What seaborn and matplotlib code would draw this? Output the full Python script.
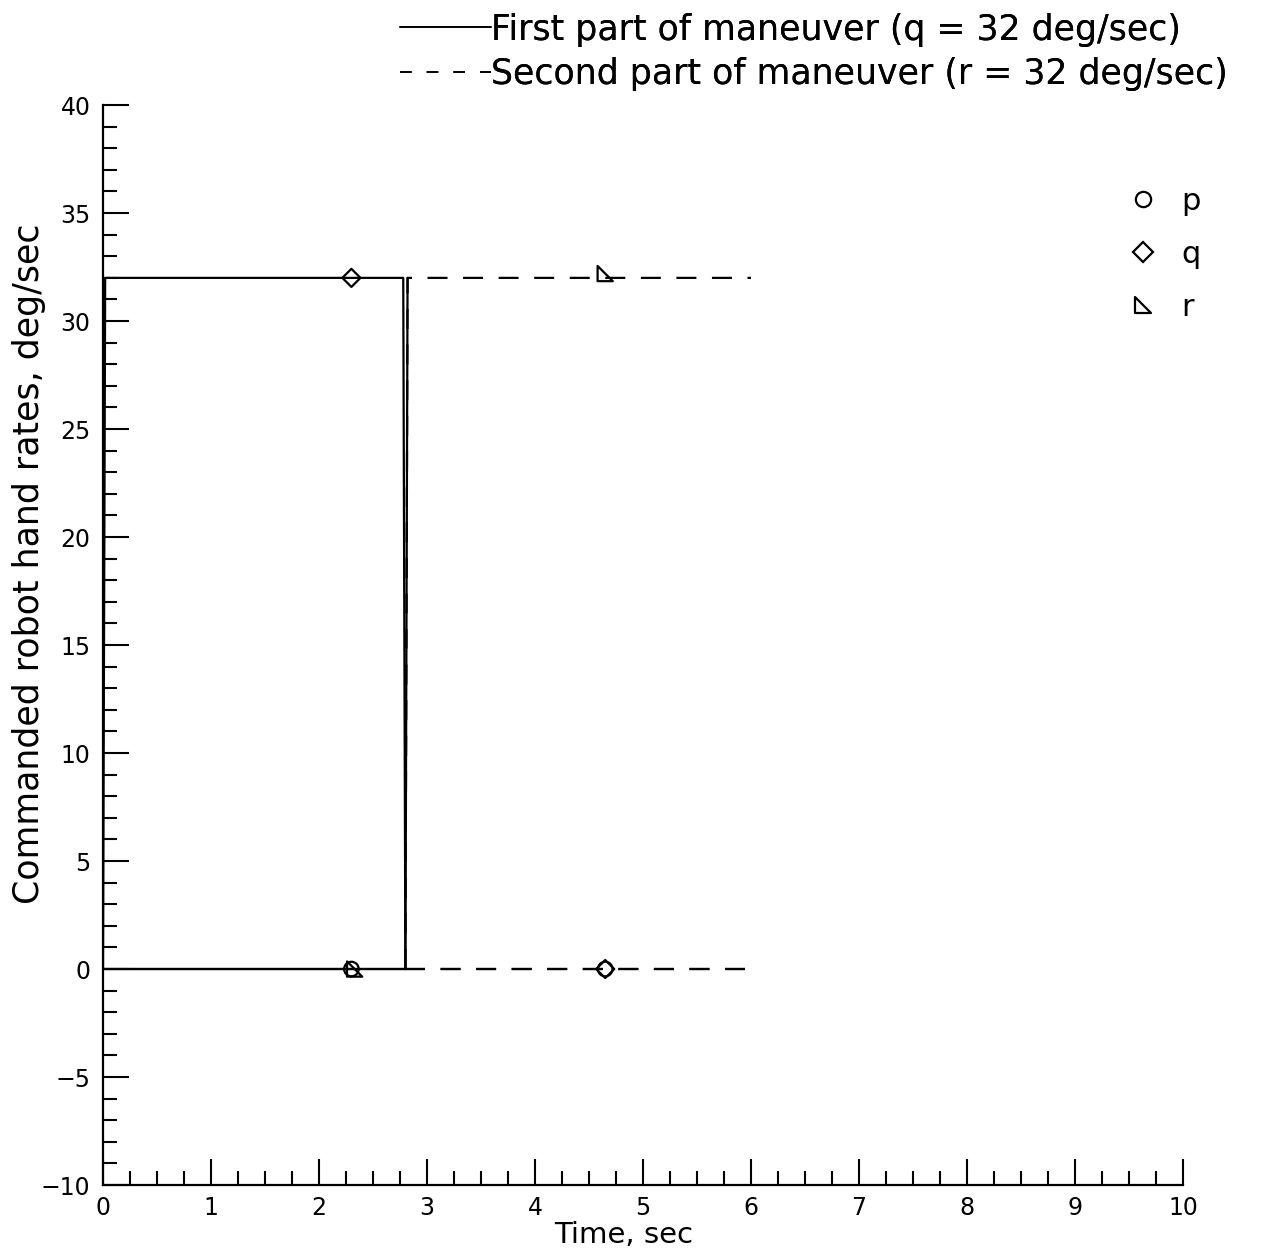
import numpy as np
import pandas as pd
import matplotlib
matplotlib.use("Agg")
import matplotlib.pyplot as plt
from matplotlib.lines import Line2D
from matplotlib.path import Path
import seaborn as sns

# first part of maneuver (q = 32 deg/sec)
time1 = [0.0, 0.02, 2.78, 2.80]
p1 = [0, 0, 0, 0]
q1 = [0, 32, 32, 0]
r1 = [0, 0, 0, 0]

# second part of maneuver (r = 32 deg/sec)
time2 = [2.80, 2.82, 6.0]
p2 = [0, 0, 0]
q2 = [0, 0, 0]
r2 = [0, 32, 32]

# symbol positions
markTime1 = 2.3
markTime2 = 4.65
markP = [0, 0]
markQ = [32, 0]
markR = [0, 32]

xTicks = list(range(0, 11))
yTicks = list(range(-10, 41, 5))

triangle = Path([(-1, 1), (-1, -1), (1, -1), (-1, 1)],
                [Path.MOVETO, Path.LINETO, Path.LINETO, Path.CLOSEPOLY])

sns.set_theme(style="ticks")
plt.rcParams["font.family"] = ["DejaVu Sans"]
plt.rcParams.update({"text.color": "black", "axes.labelcolor": "black",
                     "xtick.color": "black", "ytick.color": "black",
                     "axes.edgecolor": "black"})

fig = plt.figure(figsize=(12.67, 12.54), dpi=100)
ax = fig.add_axes([0.0813, 0.055, 0.8524, 0.8612])

lw = 1.6
dash = (0, (9, 7))

df1 = pd.DataFrame({"t": time1, "p": p1, "q": q1, "r": r1})
df2 = pd.DataFrame({"t": time2, "p": p2, "q": q2, "r": r2})

for col in ["p", "r", "q"]:
    sns.lineplot(data=df1, x="t", y=col, ax=ax, color="black", linewidth=lw,
                 sort=False, estimator=None)
for col in ["p", "q", "r"]:
    sns.lineplot(data=df2, x="t", y=col, ax=ax, color="black", linewidth=lw,
                 sort=False, estimator=None, linestyle=dash)
# jump of r at switch drawn as continuous line
ax.plot(time2[:2], r2[:2], color="black", linewidth=lw)

mk = dict(facecolors="none", edgecolors="black", linewidths=1.6, zorder=5)
ax.scatter([markTime1, markTime2], markP, marker="o", s=110, **mk)
ax.scatter([markTime1, markTime2], [markQ[0], markQ[1]], marker="D", s=85, **mk)
ax.scatter([markTime1 + 0.03, markTime2], [markR[0], markR[1] + 0.2], marker=triangle, s=120, **mk)

ax.set_xlim(0, 10)
ax.set_ylim(-10, 40)
ax.set_xticks(xTicks)
ax.set_yticks(yTicks)
ax.set_xticks(np.arange(0, 10.01, 0.25), minor=True)
ax.set_yticks(np.arange(-10, 40.01, 1), minor=True)
ax.tick_params(which="major", direction="in", length=19, width=1.5,
               labelsize=17, pad=8, colors="black")
ax.tick_params(which="minor", direction="in", length=10, width=1.5, colors="black")
ax.tick_params(axis="y", pad=9)
for side in ["top", "right"]:
    ax.spines[side].set_visible(False)
for side in ["left", "bottom"]:
    ax.spines[side].set_linewidth(1.6)
    ax.spines[side].set_color("black")
ax.set_facecolor("white")

ax.set_xlabel("Time, sec", fontsize=21, color="black")
ax.set_ylabel("Commanded robot hand rates, deg/sec", fontsize=25, color="black")
ax.xaxis.set_label_coords(0.482, -0.033)
ax.yaxis.set_label_coords(-0.053, 0.575)

lineHandles = [Line2D([], [], color="black", linewidth=1.2),
               Line2D([], [], color="black", linewidth=1.2, linestyle=(0, (7, 9)))]
lineLabels = ["First part of maneuver (q = 32 deg/sec)",
              "Second part of maneuver (r = 32 deg/sec)"]
leg1 = fig.legend(lineHandles, lineLabels, loc="upper left",
                  bbox_to_anchor=(0.316, 0.99), frameon=False, fontsize=25,
                  handlelength=2.6, handletextpad=0.0, labelspacing=0.3,
                  borderpad=0, borderaxespad=0, labelcolor="black")
fig.add_artist(leg1)

markHandles = [Line2D([], [], linestyle="none", marker="o", markersize=11,
                      markerfacecolor="none", markeredgecolor="black", markeredgewidth=1.6),
               Line2D([], [], linestyle="none", marker="D", markersize=10,
                      markerfacecolor="none", markeredgecolor="black", markeredgewidth=1.6),
               Line2D([], [], linestyle="none", marker=triangle, markersize=12,
                      markerfacecolor="none", markeredgecolor="black", markeredgewidth=1.6)]
ax.legend(markHandles, ["p", "q", "r"], loc="upper left",
          bbox_to_anchor=(0.949, 0.924), frameon=False, fontsize=22,
          handlelength=1.0, handletextpad=0.75, labelspacing=0.78,
          borderpad=0, borderaxespad=0, labelcolor="black")

fig.savefig("out.png", dpi=100, facecolor="white")
